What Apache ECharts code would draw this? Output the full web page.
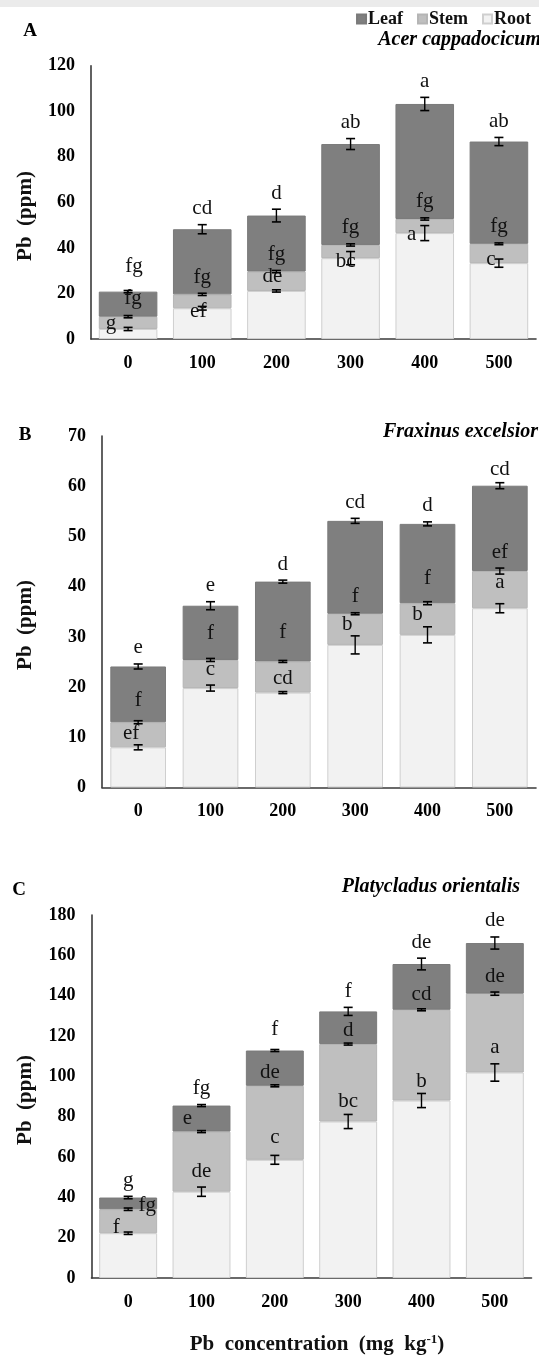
<!DOCTYPE html>
<html><head><meta charset="utf-8">
<script src="https://cdn.jsdelivr.net/npm/echarts@6/dist/echarts.min.js"></script>
<style>html,body{margin:0;padding:0;background:#fff}#c{width:539px;height:1356px}</style>
</head><body><div id="c"></div>
<script>
const categories = ['0', '100', '200', '300', '400', '500'];
const yTicksA = [0, 120, 20];
const yTicksB = [0, 70, 10];
const yTicksC = [0, 180, 20];

// Panel A - Acer cappadocicum (segment values, ppm)
const aRoot = [4.4, 13.5, 21.1, 35.5, 46.5, 33.3];
const aStem = [5.4, 6.1, 8.5, 5.8, 6.2, 8.5];
const aLeaf = [11.0, 28.6, 24.6, 44.3, 50.5, 44.9];
const aRootErr = [0.7, 0.8, 0.5, 2.9, 3.3, 1.8];
const aStemErr = [0.5, 0.5, 0.5, 0.5, 0.5, 0.4];
const aLeafErr = [0.5, 2.0, 2.8, 2.4, 2.9, 1.8];
const aRootSig = ['g', 'ef', 'de', 'bc', 'a', 'c'];
const aStemSig = ['fg', 'fg', 'fg', 'fg', 'fg', 'fg'];
const aLeafSig = ['fg', 'cd', 'd', 'ab', 'a', 'ab'];

// Panel B - Fraxinus excelsior
const bRoot = [8.0, 19.8, 18.9, 28.4, 30.4, 35.7];
const bStem = [5.0, 5.6, 6.2, 6.2, 6.3, 7.4];
const bLeaf = [11.1, 10.8, 15.9, 18.5, 15.8, 17.0];
const bRootErr = [0.5, 0.6, 0.2, 1.8, 1.6, 0.9];
const bStemErr = [0.3, 0.3, 0.2, 0.2, 0.3, 0.6];
const bLeafErr = [0.5, 0.8, 0.3, 0.5, 0.4, 0.6];
const bRootSig = ['ef', 'c', 'cd', 'b', 'b', 'a'];
const bStemSig = ['f', 'f', 'f', 'f', 'f', 'ef'];
const bLeafSig = ['e', 'e', 'd', 'cd', 'd', 'cd'];

// Panel C - Platycladus orientalis
const cRoot = [22.2, 42.8, 58.6, 77.6, 88.0, 101.9];
const cStem = [11.9, 29.8, 36.7, 38.4, 45.0, 39.1];
const cLeaf = [5.8, 12.9, 17.5, 16.2, 22.7, 25.1];
const cRootErr = [0.6, 2.3, 2.2, 3.5, 3.5, 4.3];
const cStemErr = [0.6, 0.5, 0.5, 0.5, 0.5, 0.8];
const cLeafErr = [0.6, 0.5, 0.5, 2.0, 2.9, 3.0];
const cRootSig = ['f', 'de', 'c', 'bc', 'b', 'a'];
const cStemSig = ['fg', 'e', 'de', 'd', 'cd', 'de'];
const cLeafSig = ['g', 'fg', 'f', 'f', 'de', 'de'];

// label placement tweaks (style): [dx, dy] relative to top of error bar
const DEF = [0, -16];
const labelOffsets = {
  A: { root: {0: [-17, -4], 1: [-4, 5], 2: [-4, -13], 3: [-5, 10], 4: [-13, 9], 5: [-8, 0]},
       stem: {0: [5, -17]}, leaf: {0: [6, -24]} },
  B: { root: {0: [-7, -11], 2: [0, -13], 3: [-8, -11], 4: [-10, -12], 5: [0, -21]},
       stem: {1: [0, -25], 2: [0, -28], 4: [0, -23], 0: [0, -20]}, leaf: {5: [0, -13]} },
  C: { root: {0: [-12, -5], 2: [0, -18], 4: [0, -12], 3: [0, -13]},
       stem: {0: [19, -3], 1: [-14, -12], 2: [-5, -12], 3: [0, -13], 4: [0, -14]}, leaf: {2: [0, -20]} }
};

const SERIF = '"Liberation Serif", "Times New Roman", serif';
const colors = { leaf: '#7f7f7f', stem: '#bfbfbf', root: '#f2f2f2' };

function cum(a, b) { return a.map((v, i) => v + (b ? b[i] : 0)); }

function errSeries(g, tops, errs, sigs, offs) {
  return {
    type: 'custom', xAxisIndex: g, yAxisIndex: g, z: 10, silent: true,
    data: tops.map((t, i) => [i, t, errs[i]]),
    renderItem(params, api) {
      const i = api.value(0), top = api.value(1), e = api.value(2);
      const hi = api.coord([i, top + e]), lo = api.coord([i, top - e]);
      const x = hi[0], cw = 4.5;
      const o = offs[params.dataIndex] || DEF;
      return { type: 'group', children: [
        { type: 'line', shape: { x1: x, y1: hi[1], x2: x, y2: lo[1] }, style: { stroke: '#000', lineWidth: 1.4 } },
        { type: 'line', shape: { x1: x - cw, y1: hi[1], x2: x + cw, y2: hi[1] }, style: { stroke: '#000', lineWidth: 1.6 } },
        { type: 'line', shape: { x1: x - cw, y1: lo[1], x2: x + cw, y2: lo[1] }, style: { stroke: '#000', lineWidth: 1.6 } },
        { type: 'text', x: x + o[0], y: hi[1] + o[1], style: { text: sigs[params.dataIndex], fill: '#111',
          font: '21px ' + SERIF, align: 'center', verticalAlign: 'middle' } }
      ] };
    }
  };
}

function panelSeries(g, key, root, stem, leaf, rE, sE, lE, rS, sS, lS, gap) {
  const st = 'st' + g;
  const rootTop = root.slice();
  const stemTop = cum(root, stem);
  const leafTop = cum(stemTop, leaf);
  const bar = (name, data, col, border) => ({
    name, type: 'bar', stack: st, xAxisIndex: g, yAxisIndex: g, data, barCategoryGap: gap,
    itemStyle: { color: col, borderColor: border, borderWidth: 1 }, silent: true
  });
  return [
    bar('Root', root, colors.root, '#cfcfcf'),
    bar('Stem', stem, colors.stem, '#b5b5b5'),
    bar('Leaf', leaf, colors.leaf, '#7a7a7a'),
    errSeries(g, rootTop, rE, rS, labelOffsets[key].root),
    errSeries(g, stemTop, sE, sS, labelOffsets[key].stem),
    errSeries(g, leafTop, lE, lS, labelOffsets[key].leaf)
  ];
}

const axisLineStyle = { show: true, lineStyle: { color: '#3a3a3a', width: 1.6 } };
const tickFont = { color: '#000', fontFamily: SERIF, fontWeight: 'bold', fontSize: 18 };

function xAx(g) {
  return { type: 'category', gridIndex: g, data: categories, axisLine: axisLineStyle,
    axisTick: { show: false }, axisLabel: Object.assign({ margin: 15 }, tickFont) };
}
function yAx(g, t) {
  return { type: 'value', gridIndex: g, min: t[0], max: t[1], interval: t[2], axisLine: axisLineStyle,
    axisTick: { show: false }, splitLine: { show: false }, axisLabel: Object.assign({ margin: 16 }, tickFont) };
}

const chart = echarts.init(document.getElementById('c'), null, { renderer: 'canvas' });
chart.setOption({
  backgroundColor: '#ffffff',
  animation: false,
  legend: {
    data: ['Leaf', 'Stem', 'Root'], right: 3, top: 5, icon: 'rect', itemWidth: 9, itemHeight: 9, itemGap: 14,
    textStyle: { fontFamily: SERIF, fontWeight: 'bold', fontSize: 18, color: '#111', padding: [0, 0, 0, -3] }
  },
  grid: [
    { left: 91, width: 445, top: 65.7, height: 273.3 },
    { left: 102, width: 434, top: 436, height: 351.5 },
    { left: 91.5, width: 440, top: 915, height: 363 }
  ],
  xAxis: [xAx(0), xAx(1), xAx(2)],
  yAxis: [yAx(0, yTicksA), yAx(1, yTicksB), yAx(2, yTicksC)],
  series: [
    ...panelSeries(0, 'A', aRoot, aStem, aLeaf, aRootErr, aStemErr, aLeafErr, aRootSig, aStemSig, aLeafSig, '21%'),
    ...panelSeries(1, 'B', bRoot, bStem, bLeaf, bRootErr, bStemErr, bLeafErr, bRootSig, bStemSig, bLeafSig, '23%'),
    ...panelSeries(2, 'C', cRoot, cStem, cLeaf, cRootErr, cStemErr, cLeafErr, cRootSig, cStemSig, cLeafSig, '21%')
  ],
  graphic: [
    { type: 'rect', shape: { x: 0, y: 0, width: 539, height: 7 }, style: { fill: '#ebebeb' }, silent: true },
    { type: 'text', x: 30, y: 31.5, style: { text: 'A', font: 'bold 19px ' + SERIF, fill: '#000', align: 'center', verticalAlign: 'middle' } },
    { type: 'text', x: 25, y: 435, style: { text: 'B', font: 'bold 19px ' + SERIF, fill: '#000', align: 'center', verticalAlign: 'middle' } },
    { type: 'text', x: 19, y: 890, style: { text: 'C', font: 'bold 19px ' + SERIF, fill: '#000', align: 'center', verticalAlign: 'middle' } },
    { type: 'text', x: 26, y: 216, rotation: Math.PI / 2, style: { text: 'Pb  (ppm)', font: 'bold 21px ' + SERIF, fill: '#111', align: 'center', verticalAlign: 'middle' } },
    { type: 'text', x: 26, y: 625, rotation: Math.PI / 2, style: { text: 'Pb  (ppm)', font: 'bold 21px ' + SERIF, fill: '#111', align: 'center', verticalAlign: 'middle' } },
    { type: 'text', x: 26, y: 1100, rotation: Math.PI / 2, style: { text: 'Pb  (ppm)', font: 'bold 21px ' + SERIF, fill: '#111', align: 'center', verticalAlign: 'middle' } },
    { type: 'text', x: 541, y: 40, style: { text: 'Acer cappadocicum', font: 'italic bold 20px ' + SERIF, fill: '#000', align: 'right', verticalAlign: 'middle' } },
    { type: 'text', x: 538, y: 432, style: { text: 'Fraxinus excelsior', font: 'italic bold 20px ' + SERIF, fill: '#000', align: 'right', verticalAlign: 'middle' } },
    { type: 'text', x: 520, y: 887, style: { text: 'Platycladus orientalis', font: 'italic bold 20px ' + SERIF, fill: '#000', align: 'right', verticalAlign: 'middle' } },
    { type: 'text', x: 317, y: 1345, style: {
      text: '{a|Pb  concentration  (mg  kg}{s|-1}{a|)}', align: 'center', verticalAlign: 'middle',
      rich: {
        a: { fontFamily: SERIF, fontWeight: 'bold', fontSize: 21, fill: '#111', lineHeight: 24 },
        s: { fontFamily: SERIF, fontWeight: 'bold', fontSize: 13, fill: '#111', lineHeight: 24, padding: [0, 0, 10, 0] }
      } } }
  ]
});
</script></body></html>
